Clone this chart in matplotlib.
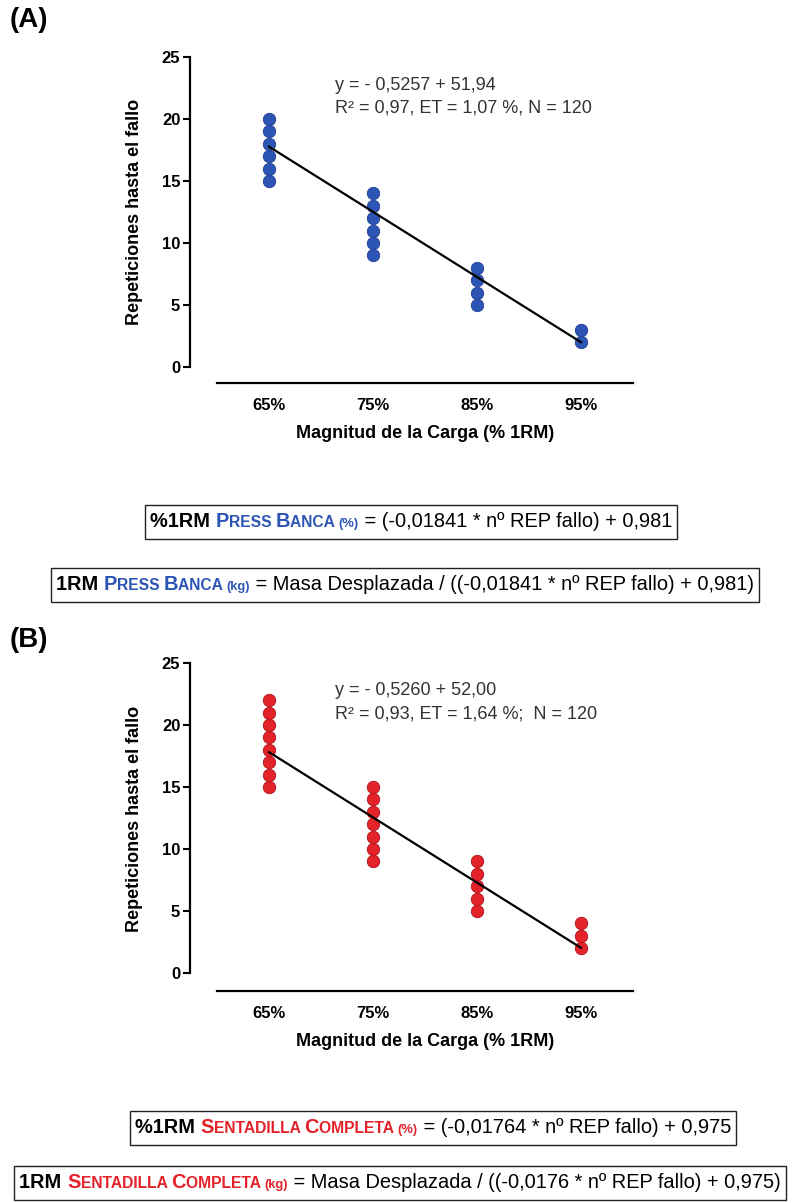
import matplotlib
matplotlib.use("Agg")
import matplotlib.pyplot as plt
from matplotlib import font_manager
from matplotlib.patches import Rectangle

# ---- data ----
categories = ["65%", "75%", "85%", "95%"]
load_pct = [65, 75, 85, 95]

# panel A: press banca
bench_reps = [
    [15, 16, 17, 18, 19, 20],
    [9, 10, 11, 12, 13, 14],
    [5, 6, 7, 8],
    [2, 3],
]
bench_slope, bench_intercept = -0.5257, 51.94

# panel B: sentadilla completa
squat_reps = [
    [15, 16, 17, 18, 19, 20, 21, 22],
    [9, 10, 11, 12, 13, 14, 15],
    [5, 6, 7, 8, 9],
    [2, 3, 4],
]
squat_slope, squat_intercept = -0.5260, 52.00

yticks = [0, 5, 10, 15, 20, 25]

BLUE = "#2d55b5"
RED = "#e3222a"

names = {f.name for f in font_manager.fontManager.ttflist}
NARROW = "Liberation Sans Narrow" if "Liberation Sans Narrow" in names else "Liberation Sans"
plt.rcParams["font.family"] = ["Liberation Sans", "DejaVu Sans"]

W, H = 805, 1203
fig = plt.figure(figsize=(W / 100, H / 100), dpi=100)


def px_axes(left, top, right, bottom):
    return fig.add_axes([left / W, 1 - bottom / H, (right - left) / W, (bottom - top) / H])


def draw_panel(ax, reps, slope, intercept, color, edge, ylow, eq_lines, eq_top):
    for i, vals in enumerate(reps):
        ax.scatter([i] * len(vals), vals, s=80, color=color, edgecolors=edge,
                   linewidths=0.6, zorder=3)
    # regression line over the load range
    x_idx = [0, len(load_pct) - 1]
    y_fit = [slope * load_pct[0] + intercept, slope * load_pct[-1] + intercept]
    ax.plot(x_idx, y_fit, color="black", lw=1.6, zorder=4)

    ax.set_xlim(-0.76, 3.5)
    ax.set_ylim(ylow, 25)
    ax.spines["top"].set_visible(False)
    ax.spines["right"].set_visible(False)
    ax.spines["left"].set_bounds(0, 25)
    ax.spines["bottom"].set_bounds(-0.5, 3.5)
    for s in ("left", "bottom"):
        ax.spines[s].set_linewidth(1.6)
    ax.set_xticks(range(len(categories)))
    ax.set_xticklabels(categories, fontweight="bold", fontsize=12)
    ax.set_yticks(yticks)
    ax.set_yticklabels([str(t) for t in yticks], fontweight="bold", fontsize=12)
    ax.tick_params(axis="x", length=0, pad=11)
    ax.tick_params(axis="y", length=5, width=1.5, pad=2)

    ax.set_ylabel("Repeticiones hasta el fallo", fontweight="bold", fontsize=13)
    ax.yaxis.set_label_coords(-0.105, 0.524)
    ax.set_xlabel("Magnitud de la Carga (% 1RM)", fontweight="bold", fontsize=13)
    ax.xaxis.set_label_coords(0.53, -0.128)

    ax.text(0.635, eq_top, "\n".join(eq_lines), fontsize=13, color="#333333",
            va="top", ha="left", linespacing=1.45)


def rich_line(cx, cy, parts, size):
    """Draw a boxed line made of differently styled pieces, centred on cx."""
    renderer = fig.canvas.get_renderer()
    base = cy + 0.36 * size * 100 / 72 * 0.72
    texts = []
    x = 0
    for txt, color, weight, scale in parts:
        t = fig.text(x / W, 1 - base / H, txt, color=color, fontweight=weight,
                     fontsize=size * scale, family=[NARROW, "Liberation Sans"],
                     va="baseline", ha="left")
        w = t.get_window_extent(renderer).width
        texts.append((t, x))
        x += w
    total = x
    x0 = cx - total / 2
    for t, off in texts:
        t.set_x((x0 + off) / W)
    bh = 34
    fig.patches.append(Rectangle(((x0 - 5) / W, 1 - (cy + bh / 2) / H),
                                 (total + 10) / W, bh / H,
                                 transform=fig.transFigure, fill=False,
                                 edgecolor="#222222", lw=1.0))


axA = px_axes(190, 57, 633, 383)
draw_panel(axA, bench_reps, bench_slope, bench_intercept, BLUE, "#1f3f90", -1.29,
           ["y = - 0,5257 + 51,94", "R² = 0,97, ET = 1,07 %, N = 120"], 23.4)

axB = px_axes(190, 663, 633, 991)
draw_panel(axB, squat_reps, squat_slope, squat_intercept, RED, "#b01018", -1.45,
           ["y = - 0,5260 + 52,00", "R² = 0,93, ET = 1,64 %;  N = 120"], 23.45)

fig.text(10 / W, 1 - 20 / H, "(A)", fontsize=20, fontweight="bold", va="center")
fig.text(10 / W, 1 - 640 / H, "(B)", fontsize=20, fontweight="bold", va="center")

S = 16 if NARROW != "Liberation Sans" else 14.4
fig.canvas.draw()
rich_line(411, 522, [("%1RM ", "black", "bold", 1.0), ("P", BLUE, "bold", 1.0),
                     ("RESS ", BLUE, "bold", 0.78), ("B", BLUE, "bold", 1.0),
                     ("ANCA ", BLUE, "bold", 0.78), ("(%)", BLUE, "bold", 0.65),
                     (" = (-0,01841 * nº REP fallo) + 0,981", "black", "normal", 1.0)], S)
rich_line(405, 585, [("1RM ", "black", "bold", 1.0), ("P", BLUE, "bold", 1.0),
                     ("RESS ", BLUE, "bold", 0.78), ("B", BLUE, "bold", 1.0),
                     ("ANCA ", BLUE, "bold", 0.78), ("(kg)", BLUE, "bold", 0.65),
                     (" = Masa Desplazada / ((-0,01841 * nº REP fallo) + 0,981)", "black", "normal", 1.0)], S)
rich_line(433, 1128, [("%1RM ", "black", "bold", 1.0), ("S", RED, "bold", 1.0),
                      ("ENTADILLA ", RED, "bold", 0.78), ("C", RED, "bold", 1.0),
                      ("OMPLETA ", RED, "bold", 0.78), ("(%)", RED, "bold", 0.65),
                      (" = (-0,01764 * nº REP fallo) + 0,975", "black", "normal", 1.0)], S)
rich_line(400, 1183, [("1RM ", "black", "bold", 1.0), ("S", RED, "bold", 1.0),
                      ("ENTADILLA ", RED, "bold", 0.78), ("C", RED, "bold", 1.0),
                      ("OMPLETA ", RED, "bold", 0.78), ("(kg)", RED, "bold", 0.65),
                      (" = Masa Desplazada / ((-0,0176 * nº REP fallo) + 0,975)", "black", "normal", 1.0)], S)

fig.savefig("out.png", dpi=100)
